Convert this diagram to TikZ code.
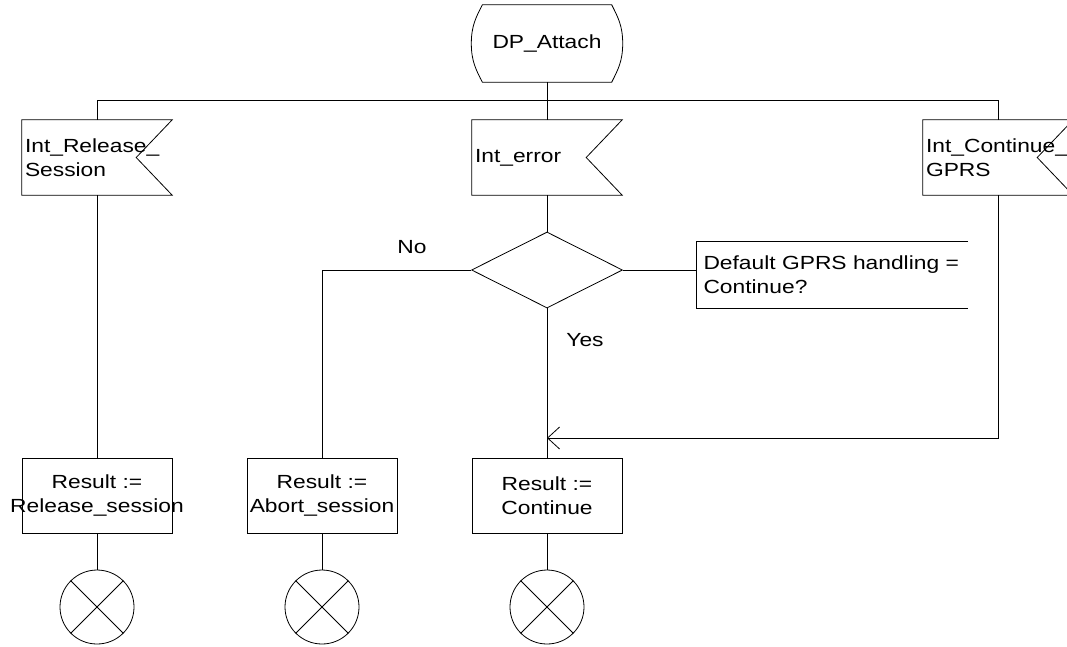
\documentclass[tikz,border=0pt]{standalone}
\usepackage{fontspec}
\newfontfamily\sdlfont[FakeStretch=1.2]{Liberation Sans}
\usetikzlibrary{arrows.meta,shapes.geometric,calc}
\definecolor{INK}{HTML}{000000}

\begin{document}
\begin{tikzpicture}[x=1pt,y=-1pt]
\tikzset{txt/.style={inner sep=3pt,font=\sdlfont\fontsize{19}{24}\selectfont},
 box/.style={txt,minimum width=150pt,minimum height=75pt},
 sig/.style={box,text width=144pt,align=left},
 res/.style={box,draw=INK,line width=0.8pt},
 ln/.style={INK,line width=0.8pt},
 stp/.style={circle,draw=INK,line width=0.8pt,minimum size=74pt,inner sep=0pt},
 arr/.style={ln,-{Straight Barb[length=12pt,width=22pt]}}}
\useasboundingbox (0,0) rectangle (1067,646);
% start state
\node[box,minimum width=151pt,minimum height=77pt] (start) at (547,43.5) {DP\_Attach};
\draw[ln] ([xshift=11pt]start.north west) -- ([xshift=-11pt]start.north east)
 .. controls ([xshift=-5pt,yshift=-12pt]start.north east) and ([yshift=18pt]start.east) .. (start.east)
 .. controls ([yshift=-18pt]start.east) and ([xshift=-5pt,yshift=12pt]start.south east) .. ([xshift=-11pt]start.south east)
 -- ([xshift=11pt]start.south west)
 .. controls ([xshift=5pt,yshift=12pt]start.south west) and ([yshift=-18pt]start.west) .. (start.west)
 .. controls ([yshift=18pt]start.west) and ([xshift=5pt,yshift=-12pt]start.north west) .. ([xshift=11pt]start.north west) -- cycle;
\coordinate (bus) at (547,100);
% input signals
\node[sig] (rel) at (97,157.5) {Int\_Release\_\\Session};
\node[sig] (ierr) at (547,157.5) {Int\_error};
\node[sig] (cgprs) at (998,157.5) {Int\_Continue\_\\GPRS};
\foreach \n in {rel,ierr,cgprs}
 \draw[ln] (\n.north west) -- (\n.north east) -- ([xshift=-36pt]\n.east) -- (\n.south east) -- (\n.south west) -- cycle;
% decision and comment
\node[diamond,draw=INK,line width=0.8pt,minimum width=151pt,minimum height=76pt,inner sep=0pt] (dec) at (547,270) {};
\node[txt,minimum width=271pt,minimum height=66pt,text width=258pt,inner xsep=6pt,align=left] (cmt) at (832.5,275) {Default GPRS handling =\\Continue?};
\draw[ln] (cmt.north east) -- (cmt.north west) -- (cmt.south west) -- (cmt.south east);
\node[txt] (no) at (412,247) {No};
\node[txt] (yes) at (585,340) {Yes};
% tasks
\node[res] (resR) at (97,495.5) {};
\node[txt,align=center] (resRt) at (resR) {Result :=\\Release\_session};
\node[res] (resA) at (322,495.5) {};
\node[txt,align=center] (resAt) at (resA) {Result :=\\Abort\_session};
\node[res] (resC) at (547,495.5) {};
\node[txt,align=center] (resCt) at (resC) {Result :=\\Continue};
\coordinate (join) at (547,438);
% stops
\node[stp] (s1) at (97,607) {};
\node[stp] (s2) at (322,607) {};
\node[stp] (s3) at (547,607) {};
\foreach \s in {s1,s2,s3}
 \draw[ln] (\s.north west) -- (\s.south east) (\s.north east) -- (\s.south west);
% connectors
\draw[ln] (start.south) -- (bus);
\draw[ln] (rel.north |- bus) -- (cgprs.north |- bus);
\foreach \n in {rel,ierr,cgprs} \draw[ln] (\n.north |- bus) -- (\n.north);
\draw[ln] (ierr.south) -- (dec.north);
\draw[ln] (dec.east) -- (dec.east -| cmt.west);
\draw[ln] (dec.west) -| (resA.north);
\draw[ln] (dec.south) -- (resC.north);
\draw[ln] (rel.south) -- (resR.north);
\draw[arr] (cgprs.south) |- (join);
\foreach \r/\s in {resR/s1,resA/s2,resC/s3} \draw[ln] (\r.south) -- (\s.north);
\end{tikzpicture}
\end{document}
